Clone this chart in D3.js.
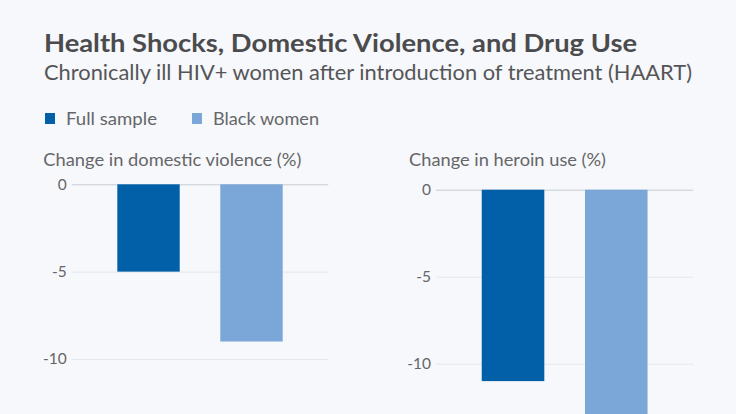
<!DOCTYPE html>
<html>
<head>
<meta charset="utf-8">
<script src="https://cdn.jsdelivr.net/npm/d3@7"></script>
<style>
  html, body { margin: 0; padding: 0; background: #f6f8fb; }
  svg { display: block; font-family: "Source Sans Pro", Lato, "Noto Sans", sans-serif; }
</style>
</head>
<body>
<svg id="chart" width="736" height="414"></svg>
<script>
// ---- data ----
const seriesNames = ["Full sample", "Black women"];
const seriesColors = ["#0160a8", "#7ba7d8"];
const panelTitles = ["Change in domestic violence (%)", "Change in heroin use (%)"];
const domesticViolence = [-5.0, -9.0];
const heroinUse = [-11.0, -14.0];
const tickValues = [0, -5, -10];
const titleText = "Health Shocks, Domestic Violence, and Drug Use";
const subtitleText = "Chronically ill HIV+ women after introduction of treatment (HAART)";

const svg = d3.select("#chart");
svg.append("rect").attr("width", 736).attr("height", 414).attr("fill", "#f6f8fb");

function fitText(sel, target) {
  sel.attr("textLength", target).attr("lengthAdjust", "spacingAndGlyphs");
}

// titles
const t = svg.append("text").attr("x", 44).attr("y", 52.3)
  .attr("font-size", 24.5).attr("font-weight", 700).attr("fill", "#4b4b4d").text(titleText);
fitText(t, 593);
const st = svg.append("text").attr("x", 44).attr("y", 79.5)
  .attr("font-size", 21).attr("fill", "#555557").text(subtitleText);
fitText(st, 648);

// legend
const legendX = [45, 192];
seriesNames.forEach((name, i) => {
  svg.append("rect").attr("x", legendX[i]).attr("y", 113).attr("width", 10).attr("height", 11)
    .attr("fill", seriesColors[i]);
  const lt = svg.append("text").attr("x", legendX[i] + 21).attr("y", 125)
    .attr("font-size", 17.5).attr("fill", "#666668").text(name);
  fitText(lt, i === 0 ? 91 : 106);
});

// panels
const panels = [
  { title: panelTitles[0], values: domesticViolence, x0: 71.7, x1: 328.3, y0: 184.3, y10: 359, titleX: 43.3, titleW: 258 },
  { title: panelTitles[1], values: heroinUse, x0: 436, x1: 693.3, y0: 189.7, y10: 363.7, titleX: 409, titleW: 197 }
];

panels.forEach(p => {
  const g = svg.append("g");
  const pt = g.append("text").attr("x", p.titleX).attr("y", 166.3)
    .attr("font-size", 16.7).attr("fill", "#666668").text(p.title);
  fitText(pt, p.titleW);

  const x = d3.scaleBand().domain(seriesNames).range([p.x0, p.x1])
    .paddingInner(0.394).paddingOuter(0.443);
  const y = d3.scaleLinear().domain([0, -10]).range([p.y0, p.y10]);

  const axis = d3.axisLeft(y).tickValues(tickValues).tickFormat(d => String(d))
    .tickSize(-(p.x1 - p.x0)).tickPadding(5);
  const ag = g.append("g").attr("transform", `translate(${p.x0},0)`).call(axis);
  ag.select(".domain").remove();
  ag.selectAll(".tick line").attr("stroke", d => d === 0 ? "#c9cdd3" : "#e4e7eb").attr("stroke-width", 1);
  ag.selectAll(".tick text").attr("fill", "#666668").attr("font-size", 15.5)
    .attr("font-family", "\"Source Sans Pro\", Lato, \"Noto Sans\", sans-serif");

  g.selectAll("rect.bar").data(p.values).join("rect").attr("class", "bar")
    .attr("x", (d, i) => x(seriesNames[i]))
    .attr("width", x.bandwidth())
    .attr("y", d => y(0))
    .attr("height", d => y(d) - y(0))
    .attr("fill", (d, i) => seriesColors[i]);
});
</script>
</body>
</html>
